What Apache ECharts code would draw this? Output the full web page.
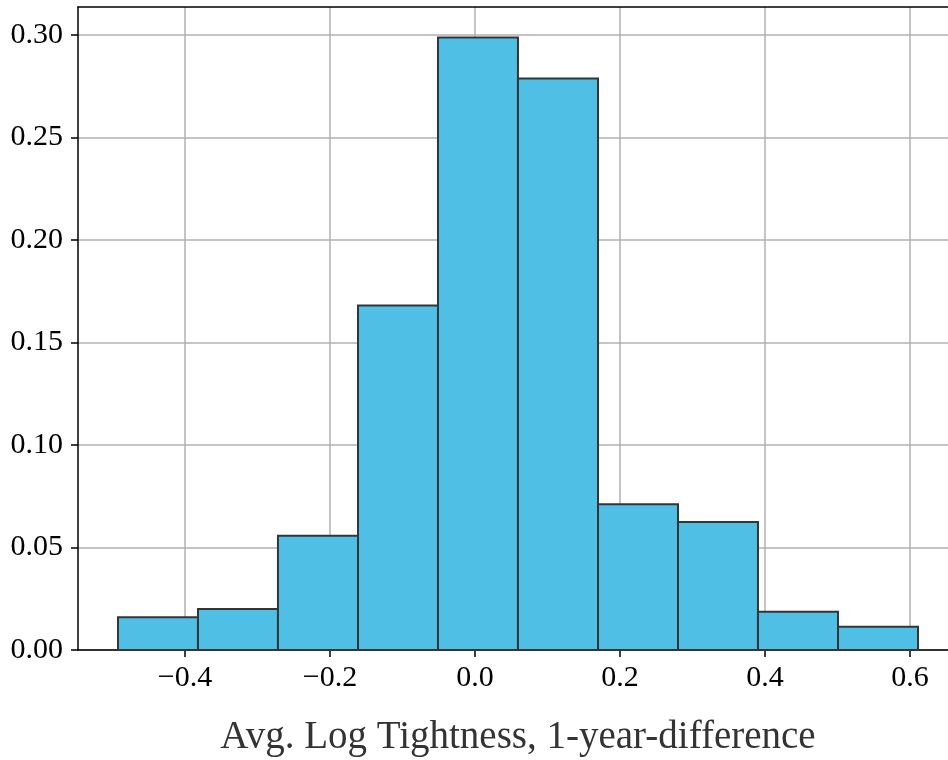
<!DOCTYPE html>
<html>
<head>
<meta charset="utf-8">
<script src="https://cdn.jsdelivr.net/npm/echarts@6/dist/echarts.min.js"></script>
<style>
  html, body { margin: 0; padding: 0; background: #fff; }
  #chart { width: 948px; height: 760px; }
</style>
</head>
<body>
<div id="chart"></div>
<script>
// Histogram bin edges (11 edges -> 10 bins)
const binEdges = [-0.4923, -0.3820, -0.2717, -0.1613, -0.0510, 0.0593, 0.1697, 0.2800, 0.3903, 0.5007, 0.6110];
// Relative frequency for each bin
const frequencies = [0.0160, 0.0200, 0.0557, 0.1680, 0.2987, 0.2787, 0.0711, 0.0624, 0.0186, 0.0114];
// Tick positions
const xTicks = [-0.4, -0.2, 0.0, 0.2, 0.4, 0.6];
const yTicks = [0.00, 0.05, 0.10, 0.15, 0.20, 0.25, 0.30];
const xTitle = 'Avg. Log Tightness, 1-year-difference';

// Axis extents with a 5% margin around the data
const span = binEdges[binEdges.length - 1] - binEdges[0];
const xMin = binEdges[0] - 0.05 * span;
const xMax = binEdges[binEdges.length - 1] + 0.05 * span;
const yMax = Math.max(...frequencies) * 1.05;

const bins = frequencies.map((f, i) => [binEdges[i], binEdges[i + 1], f]);

const serif = '"Liberation Serif", "Times New Roman", serif';
const fmt = (v, d) => {
  const s = Math.abs(v) < 1e-9 ? (0).toFixed(d) : v.toFixed(d);
  return s.replace('-', '\u2212');
};

const chart = echarts.init(document.getElementById('chart'), null, { renderer: 'canvas' });
chart.setOption({
  animation: false,
  backgroundColor: '#ffffff',
  grid: { left: 78, top: 7, right: -10, bottom: 110, containLabel: false, outerBoundsMode: 'none' },
  xAxis: [{
    type: 'value',
    min: xMin,
    max: xMax,
    position: 'bottom',
    name: xTitle,
    nameLocation: 'middle',
    nameGap: 68,
    nameTextStyle: { fontFamily: serif, fontSize: 39, color: '#333333' },
    axisLine: { show: true, onZero: false, lineStyle: { color: '#000', width: 1.5 } },
    axisTick: { show: true, length: 7, customValues: xTicks, lineStyle: { color: '#000', width: 1.5 } },
    axisLabel: {
      customValues: xTicks, margin: 13,
      fontFamily: serif, fontSize: 30, color: '#000',
      formatter: v => fmt(v, 1)
    },
    splitLine: { show: true, lineStyle: { color: '#b0b0b0', width: 1.5 } }
  }, {
    type: 'value',
    min: xMin,
    max: xMax,
    position: 'top',
    axisLine: { show: true, onZero: false, lineStyle: { color: '#000', width: 1.5 } },
    axisTick: { show: false },
    axisLabel: { show: false },
    splitLine: { show: false }
  }],
  yAxis: {
    type: 'value',
    min: 0,
    max: yMax,
    axisLine: { show: true, onZero: false, lineStyle: { color: '#000', width: 1.5 } },
    axisTick: { show: true, length: 7, customValues: yTicks, lineStyle: { color: '#000', width: 1.5 } },
    axisLabel: {
      customValues: yTicks, margin: 15,
      fontFamily: serif, fontSize: 30, color: '#000',
      formatter: v => fmt(v, 2)
    },
    splitLine: { show: true, lineStyle: { color: '#b0b0b0', width: 1.5 } }
  },
  series: [{
    type: 'custom',
    xAxisIndex: 0,
    data: bins,
    encode: { x: [0, 1], y: 2 },
    renderItem: (params, api) => {
      const p0 = api.coord([api.value(0), api.value(2)]);
      const p1 = api.coord([api.value(1), 0]);
      return {
        type: 'rect',
        shape: { x: p0[0], y: p0[1], width: p1[0] - p0[0], height: p1[1] - p0[1] },
        style: { fill: '#4FBFE6', stroke: '#353535', lineWidth: 2 }
      };
    }
  }]
});
</script>
</body>
</html>
